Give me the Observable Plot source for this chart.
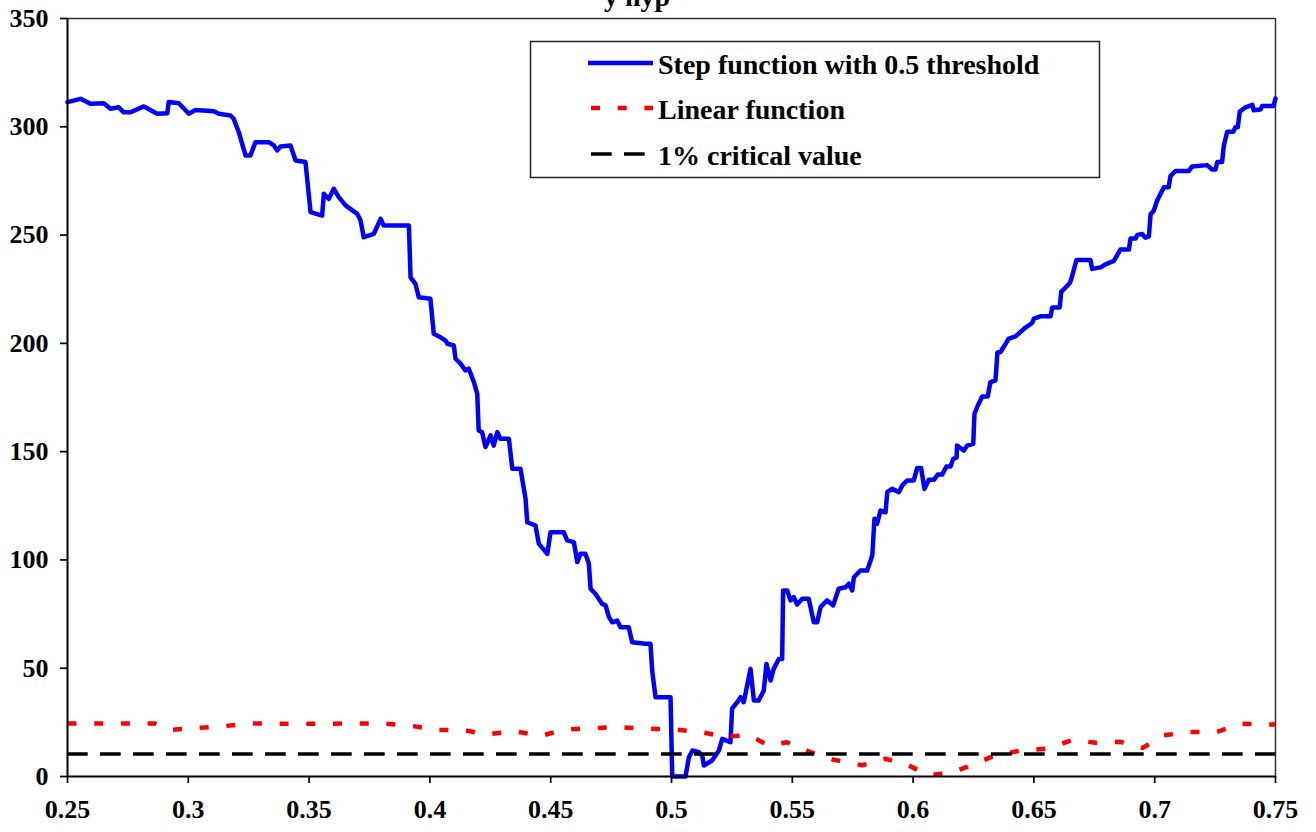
<!DOCTYPE html>
<html>
<head>
<meta charset="utf-8">
<script src="https://cdn.jsdelivr.net/npm/d3@7"></script>
<script src="https://cdn.jsdelivr.net/npm/@observablehq/plot@0.6"></script>
<style>
  html, body { margin: 0; padding: 0; background: #fff; }
  #wrap { position: relative; width: 1316px; height: 832px; overflow: hidden; background: #fff; }
  #wrap svg.mainplot text { font-family: "Liberation Serif", "Times New Roman", serif !important; font-weight: bold !important; font-size: 26px !important; fill: #000; }
  #legend { position: absolute; left: 0; top: 0; pointer-events: none; }
  #legend text { font-family: "Liberation Serif", "Times New Roman", serif; font-weight: bold; font-size: 28px; fill: #000; }
</style>
</head>
<body>
<div id="wrap"></div>
<script>
// ---- Data ----
const stepX = [0.25,0.2554,0.2595,0.2650,0.2678,0.2712,0.2733,0.2761,0.2816,0.2871,0.2913,0.2919,0.2961,0.3002,0.3030,0.3106,0.3126,0.3175,0.3188,0.3209,0.3237,0.3257,0.3278,0.3333,0.3354,0.3368,0.3382,0.3423,0.3444,0.3485,0.3506,0.3554,0.3561,0.3582,0.3602,0.3623,0.3651,0.3699,0.3713,0.3726,0.3768,0.3796,0.3809,0.3913,0.3920,0.3940,0.3954,0.4002,0.4016,0.4044,0.4065,0.4072,0.4099,0.4106,0.4127,0.4147,0.4161,0.4182,0.4196,0.4202,0.4216,0.4230,0.4251,0.4264,0.4279,0.4292,0.4327,0.4341,0.4375,0.4396,0.4403,0.4437,0.4451,0.4486,0.4499,0.4554,0.4568,0.4596,0.4610,0.4623,0.4644,0.4658,0.4665,0.4685,0.4713,0.4727,0.4741,0.4755,0.4775,0.4789,0.4823,0.4837,0.4892,0.4913,0.4920,0.4934,0.4996,0.5003,0.5058,0.5072,0.5087,0.5113,0.5127,0.5134,0.5168,0.5196,0.5210,0.5244,0.5251,0.5272,0.5286,0.5299,0.5327,0.5341,0.5361,0.5382,0.5393,0.5410,0.5423,0.5444,0.5458,0.5462,0.5479,0.5493,0.5506,0.5520,0.5541,0.5568,0.5589,0.5603,0.5617,0.5644,0.5669,0.5692,0.5720,0.5734,0.5748,0.5755,0.5782,0.5810,0.5831,0.5840,0.5851,0.5865,0.5886,0.5893,0.5913,0.5941,0.5955,0.5976,0.6003,0.6017,0.6033,0.6047,0.6065,0.6086,0.6102,0.6120,0.6138,0.6155,0.6166,0.6180,0.6182,0.6210,0.6224,0.6249,0.6254,0.6268,0.6286,0.6309,0.6320,0.6341,0.6349,0.6362,0.6396,0.6424,0.6444,0.6465,0.6493,0.6500,0.6527,0.6569,0.6576,0.6607,0.6613,0.6631,0.6649,0.6658,0.6676,0.6734,0.6741,0.6776,0.6796,0.6831,0.6858,0.6893,0.6900,0.6921,0.6928,0.6948,0.6962,0.6976,0.6983,0.6996,0.7010,0.7038,0.7058,0.7065,0.7086,0.7141,0.7155,0.7217,0.7238,0.7252,0.7259,0.7279,0.7286,0.7300,0.7325,0.7334,0.7344,0.7352,0.7376,0.7404,0.7410,0.7438,0.7445,0.7492,0.75];
const stepY = [311.4,312.9,310.6,310.9,308.3,309.0,306.7,306.7,309.4,306.0,306.3,311.4,310.9,306.0,307.8,307.2,306.0,305.2,303.7,297.5,286.7,286.7,292.9,292.9,291.4,289.1,290.9,291.4,284.4,283.7,260.6,259.0,269.1,266.7,271.4,267.5,263.7,259.8,256.7,249.0,250.6,257.5,254.4,254.4,230.5,227.5,221.3,220.6,204.4,202.8,201.3,199.8,199.0,192.9,190.6,187.5,188.3,182.1,176.7,159.8,159.0,152.1,157.5,152.8,159.0,155.9,155.9,142.1,142.1,128.2,117.4,115.9,107.4,102.8,112.8,112.8,109.0,108.2,99.0,102.8,102.8,98.2,86.7,84.4,79.7,79.0,73.6,71.2,72.0,68.9,68.9,62.0,61.3,61.3,48.9,36.6,36.6,0,0,8.9,12.0,11.2,9.7,5.1,7.4,12.0,17.4,15.8,31.3,34.3,36.6,34.3,49.7,35.1,35.1,39.7,52.0,44.3,49.7,54.3,54.3,85.9,85.9,81.3,82.8,79.4,82.1,82.1,71.2,71.2,78.2,81.3,79.0,86.7,87.4,89.0,85.9,92.0,95.1,95.1,102.0,119.0,116.7,122.8,122.0,131.3,132.8,131.3,134.4,136.7,136.7,142.5,142.5,132.8,137.0,137.0,139.4,139.4,143.1,143.1,146.7,147.2,152.8,150.5,152.8,153.6,167.5,171.3,175.5,175.5,182.1,182.9,195.8,196.0,202.2,203.2,205.2,207.3,209.4,211.4,212.5,212.5,216.6,216.6,223.8,225.8,227.9,231.0,238.5,238.5,234.4,235.1,236.5,238.1,243.3,243.3,248.4,248.4,250.1,250.5,248.8,249.4,259.7,261.2,265.9,272.1,272.1,277.2,279.6,279.6,281.7,282.3,280.3,280.3,283.7,283.7,291.2,297.7,297.7,299.8,299.8,307.0,309.0,310.1,307.6,308.0,309.6,309.6,313.1];

const linX = [0.25,0.27,0.286,0.2928,0.3046,0.315,0.326,0.349,0.37,0.3807,0.3917,0.4028,0.4139,0.4234,0.4345,0.4464,0.4559,0.467,0.478,0.4891,0.5003,0.512,0.5223,0.532,0.5403,0.5478,0.5576,0.5672,0.579,0.5886,0.5982,0.6065,0.6165,0.6249,0.6334,0.6445,0.655,0.666,0.6756,0.6858,0.695,0.7037,0.7146,0.7257,0.7357,0.7468,0.75];
const linY = [24.5,24.5,24.5,21.5,22.5,23.3,24.5,24.3,24.5,24.5,23.5,21.5,21.5,19.4,20.9,18.9,21.7,22.3,22.8,22.1,21.8,20.5,18.4,19.1,14.3,15.8,11.2,7.7,5.2,8.2,5.1,0.5,2.0,5.5,9.5,12.0,12.8,16.8,15.6,16.0,13.2,19.0,20.6,20.6,24.4,24.0,24.0];

const criticalValue = 10.4;

const seriesNames = ["Step function with 0.5 threshold", "Linear function", "1% critical value"];
const seriesColors = ["#0000ff", "#ff0000", "#000000"];
const titleFragment = "y hyp";

const xTicks = [0.25,0.3,0.35,0.4,0.45,0.5,0.55,0.6,0.65,0.7,0.75];
const xTickLabels = ["0.25","0.3","0.35","0.4","0.45","0.5","0.55","0.6","0.65","0.7","0.75"];
const yTicks = [0,50,100,150,200,250,300,350];
const yTickLabels = ["0","50","100","150","200","250","300","350"];

// ---- Build tables ----
const stepData = stepX.map((x, i) => ({x, y: stepY[i]}));
const linData = linX.map((x, i) => ({x, y: linY[i]}));

const chart = Plot.plot({
  width: 1316,
  height: 832,
  marginLeft: 67,
  marginRight: 41,
  marginTop: 18,
  marginBottom: 56,
  x: {domain: [0.25, 0.75], label: null},
  y: {domain: [0, 350], label: null},
  style: {fontFamily: "'Liberation Serif', 'Times New Roman', serif", fontWeight: "bold", fontSize: "26px", color: "#000", background: "#fff"},
  marks: [
    Plot.ruleY([350], {stroke: "#333", strokeWidth: 1.5}),
    Plot.ruleX([0.75], {stroke: "#333", strokeWidth: 1.5}),
    Plot.line(stepData, {x: "x", y: "y", stroke: seriesColors[0], strokeWidth: 4.5, strokeLinejoin: "round"}),
    Plot.line(linData, {x: "x", y: "y", stroke: seriesColors[1], strokeWidth: 4.5, strokeDasharray: "9 17.7", strokeLinecap: "butt"}),
    Plot.ruleY([criticalValue], {stroke: seriesColors[2], strokeWidth: 3.5, strokeDasharray: "20.7 12.3"}),
    Plot.axisX({ticks: xTicks, tickFormat: d => xTickLabels[xTicks.indexOf(d)], tickSize: 7, tickPadding: 16, strokeWidth: 1.7, label: null}),
    Plot.axisY({ticks: yTicks, tickFormat: d => yTickLabels[yTicks.indexOf(d)], tickSize: 7, tickPadding: 12, strokeWidth: 1.7, label: null}),
    Plot.ruleX([0.25], {stroke: "#000", strokeWidth: 2}),
    Plot.ruleY([0], {stroke: "#000", strokeWidth: 2})
  ]
});
chart.classList.add("mainplot");
document.getElementById("wrap").appendChild(chart);

// ---- Legend (inside the plot area, top right) and cut-off title ----
const ns = "http://www.w3.org/2000/svg";
const lg = document.createElementNS(ns, "svg");
lg.setAttribute("id", "legend");
lg.setAttribute("width", 1316);
lg.setAttribute("height", 832);
const ttl = document.createElementNS(ns, "text");
ttl.setAttribute("x", 604);
ttl.setAttribute("y", 6);
ttl.textContent = titleFragment;
lg.appendChild(ttl);
const box = document.createElementNS(ns, "rect");
box.setAttribute("x", 530.5); box.setAttribute("y", 41.5);
box.setAttribute("width", 569); box.setAttribute("height", 136);
box.setAttribute("fill", "#fff"); box.setAttribute("stroke", "#222"); box.setAttribute("stroke-width", 1.5);
lg.appendChild(box);
const rows = [
  {y: 63, dash: null, w: 4.5, x0: 588},
  {y: 108, dash: "9 17.7", w: 4.5, x0: 591},
  {y: 154, dash: "20.7 12.3", w: 3.5, x0: 591}
];
rows.forEach((r, i) => {
  const ln = document.createElementNS(ns, "line");
  ln.setAttribute("x1", r.x0); ln.setAttribute("x2", 653);
  ln.setAttribute("y1", r.y); ln.setAttribute("y2", r.y);
  ln.setAttribute("stroke", seriesColors[i]);
  ln.setAttribute("stroke-width", r.w);
  if (r.dash) ln.setAttribute("stroke-dasharray", r.dash);
  lg.appendChild(ln);
  const t = document.createElementNS(ns, "text");
  t.setAttribute("x", 658);
  t.setAttribute("y", r.y + 11);
  t.textContent = seriesNames[i];
  lg.appendChild(t);
});
document.getElementById("wrap").appendChild(lg);
</script>
</body>
</html>
